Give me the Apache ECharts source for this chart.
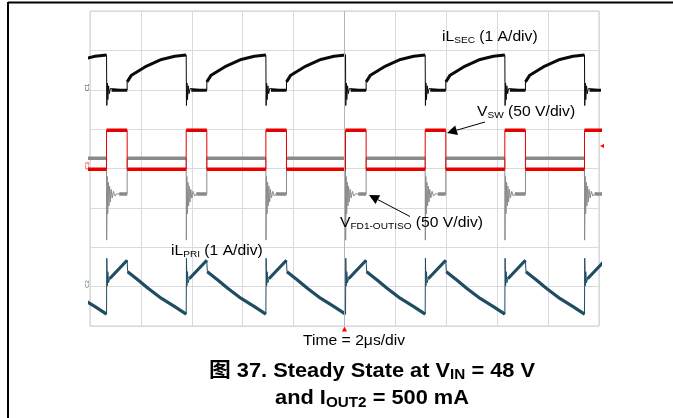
<!DOCTYPE html>
<html>
<head>
<meta charset="utf-8">
<script src="https://cdn.jsdelivr.net/npm/echarts@6/dist/echarts.min.js"></script>
<style>
  html, body { margin: 0; padding: 0; background: #fff; }
  #chart { width: 673px; height: 418px; }
</style>
</head>
<body>
<div id="chart"></div>
<script>
// screen: 10 div x 2us = 20us wide, 8 div tall (values below are in div)
const timeRange = [0, 20];
const divRange = [0, 8];

// switching edges (us), period ~3.13us
const dropTimes = [-2.48, 0.65, 3.78, 6.91, 10.04, 13.17, 16.30, 19.43];

// one switching period per trace: [t after edge (us), level (div)]
const iLsecShape = [[0, 6.88], [0.01, 5.6], [0.03, 6.17], [0.05, 5.75], [0.08, 6.1], [0.11, 5.9], [0.15, 6.03], [0.2, 5.99],
  [0.81, 5.99], [0.81, 6.2], [0.98, 6.37], [1.51, 6.58], [2.16, 6.77], [2.68, 6.85], [3.13, 6.88]];
const vswShape = [[0, 3.98], [0, 4.97], [0.81, 4.97], [0.81, 3.98], [3.13, 3.98]];
const vfdShape = [[0, 4.26], [0.005, 2.18], [0.025, 3.8], [0.045, 2.85], [0.07, 3.65], [0.095, 3.05], [0.12, 3.55],
  [0.15, 3.15], [0.18, 3.47], [0.22, 3.25], [0.27, 3.42], [0.33, 3.3], [0.4, 3.36], [0.5, 3.35],
  [0.81, 3.35], [0.81, 4.26], [3.13, 4.26]];
const iLpriShape = [[0, 0.30], [0.01, 1.72], [0.03, 1.02], [0.05, 1.38], [0.08, 1.1], [0.12, 1.2], [0.81, 1.67],
  [0.83, 1.38], [1.24, 1.17], [1.63, 0.96], [2.16, 0.70], [2.68, 0.49], [3.13, 0.30]];

const triggerTime = 10;
const triggerLevel = 4.57;

function buildTrace(shape) {
  const pts = [];
  dropTimes.forEach(d => {
    shape.forEach(p => pts.push([+(d + p[0]).toFixed(3), p[1]]));
  });
  return pts;
}
// thick band only on the slow parts, edges and ringing stay thin
function slowParts(pts) {
  const out = [];
  for (let i = 0; i < pts.length; i++) {
    out.push(pts[i]);
    if (i < pts.length - 1 && pts[i + 1][0] - pts[i][0] < 0.1) out.push([pts[i][0], '-']);
  }
  return out;
}

function traceSeries(name, shape, color, thin, thick, z) {
  const pts = buildTrace(shape);
  return [
    { name: name, type: 'line', data: pts, symbol: 'none', silent: true, z: z,
      lineStyle: { color: color, width: thin } },
    { name: name + '_band', type: 'line', data: slowParts(pts), symbol: 'none', silent: true, z: z,
      connectNulls: false, lineStyle: { color: color, width: thick } }
  ];
}

const font = '"Liberation Sans", Arial, "Noto Sans CJK SC", sans-serif';
function richLabel(x, baseline, text, size, subSize, opts) {
  opts = opts || {};
  const w = opts.bold ? 'bold' : 'normal';
  const drop = opts.drop || 2;
  return {
    type: 'text', x: x, y: baseline - size * 0.31, scaleX: opts.scaleX || 1.12, z: 100,
    style: {
      text: text, align: opts.align || 'left', verticalAlign: 'middle',
      textAlign: opts.align || 'left', textVerticalAlign: 'middle',
      rich: {
        m: { fontSize: size, fontFamily: font, fontWeight: w, fill: '#000', lineHeight: size },
        s: { fontSize: subSize, fontFamily: font, fontWeight: w, fill: '#000', lineHeight: size + drop, verticalAlign: 'bottom' }
      }
    }
  };
}

function arrow(x1, y1, x2, y2) {
  const a = Math.atan2(y2 - y1, x2 - x1), L = 10, W = 5;
  const bx = x2 - L * Math.cos(a), by = y2 - L * Math.sin(a);
  return [
    { type: 'line', z: 100, shape: { x1: x1, y1: y1, x2: bx, y2: by }, style: { stroke: '#000', lineWidth: 1 } },
    { type: 'polygon', z: 100, shape: { points: [[x2, y2], [bx - W * Math.sin(a), by + W * Math.cos(a)], [bx + W * Math.sin(a), by - W * Math.cos(a)]] },
      style: { fill: '#000' } }
  ];
}

function chMark(x, y, text, color) {
  return { type: 'text', x: x, y: y, rotation: Math.PI / 2, z: 100,
    style: { text: text, fontSize: 6, fontFamily: font, fill: color, align: 'center', verticalAlign: 'middle',
      textAlign: 'center', textVerticalAlign: 'middle' } };
}

const chart = echarts.init(document.getElementById('chart'), null, { renderer: 'canvas' });

const series = [].concat(
  traceSeries('VFD1-OUTISO', vfdShape, '#8a8a8a', 1, 3.5, 2),
  traceSeries('VSW', vswShape, '#e60000', 1, 3.5, 3),
  traceSeries('iLSEC', iLsecShape, '#0a0a0a', 1, 3, 3),
  traceSeries('iLPRI', iLpriShape, '#204d62', 1, 3.2, 3)
);
// centre graticule line + trigger markers
series[0].markLine = {
  silent: true, symbol: 'none', label: { show: false },
  lineStyle: { color: '#b5b5b5', width: 1, type: 'solid' },
  data: [{ xAxis: triggerTime }]
};
series[2].markPoint = {
  silent: true, label: { show: false }, itemStyle: { color: '#ff0000' },
  data: [
    { coord: [triggerTime, divRange[0]], symbol: 'triangle', symbolSize: [5, 5], symbolOffset: [0, 3] },
    { coord: [timeRange[1], triggerLevel], symbol: 'triangle', symbolSize: [4, 4], symbolRotate: 90, symbolOffset: [3, 0] }
  ]
};

chart.setOption({
  animation: false,
  backgroundColor: '#fff',
  grid: { left: 90, top: 11, width: 509, height: 315, show: true, borderColor: '#cdcdcd', borderWidth: 1 },
  xAxis: {
    type: 'value', min: timeRange[0], max: timeRange[1], interval: 2,
    axisLine: { show: false }, axisTick: { show: false }, axisLabel: { show: false },
    splitLine: { lineStyle: { color: '#dadada', width: 1 } }
  },
  yAxis: {
    type: 'value', min: divRange[0], max: divRange[1], interval: 1,
    axisLine: { show: false }, axisTick: { show: false }, axisLabel: { show: false },
    splitLine: { lineStyle: { color: '#dadada', width: 1 } }
  },
  series: series,
  graphic: [].concat(
    [
      { type: 'line', shape: { x1: 8, y1: 2.5, x2: 673, y2: 2.5 }, style: { stroke: '#000', lineWidth: 2 } },
      { type: 'line', shape: { x1: 8, y1: 2, x2: 8, y2: 418 }, style: { stroke: '#000', lineWidth: 2 } },
      richLabel(442, 41.7, '{m|iL}{s|SEC}{m| (1 A/div)}', 14, 9),
      richLabel(477, 116.7, '{m|V}{s|SW}{m| (50 V/div)}', 14, 9),
      richLabel(340, 227.3, '{m|V}{s|FD1-OUTISO}{m| (50 V/div)}', 14, 9),
      richLabel(171, 255.4, '{m|iL}{s|PRI}{m| (1 A/div)}', 14, 9),
      richLabel(303, 345, '{m|Time = 2μs/div}', 14, 9),
      richLabel(372, 377.3, '{m|图 37. Steady State at V}{s|IN}{m| = 48 V}', 20, 14, { bold: true, align: 'center', scaleX: 1.09, drop: 3 }),
      richLabel(372, 405, '{m|and I}{s|OUT2}{m| = 500 mA}', 20, 14, { bold: true, align: 'center', scaleX: 1.09, drop: 3 }),
      chMark(87, 87.5, 'C1', '#444'),
      chMark(87, 165.7, 'C3', '#ff0000'),
      chMark(87, 284, 'C2', '#4a6f85')
    ],
    arrow(485, 122, 447, 133),
    arrow(410, 216.5, 369, 195)
  )
});
</script>
</body>
</html>
